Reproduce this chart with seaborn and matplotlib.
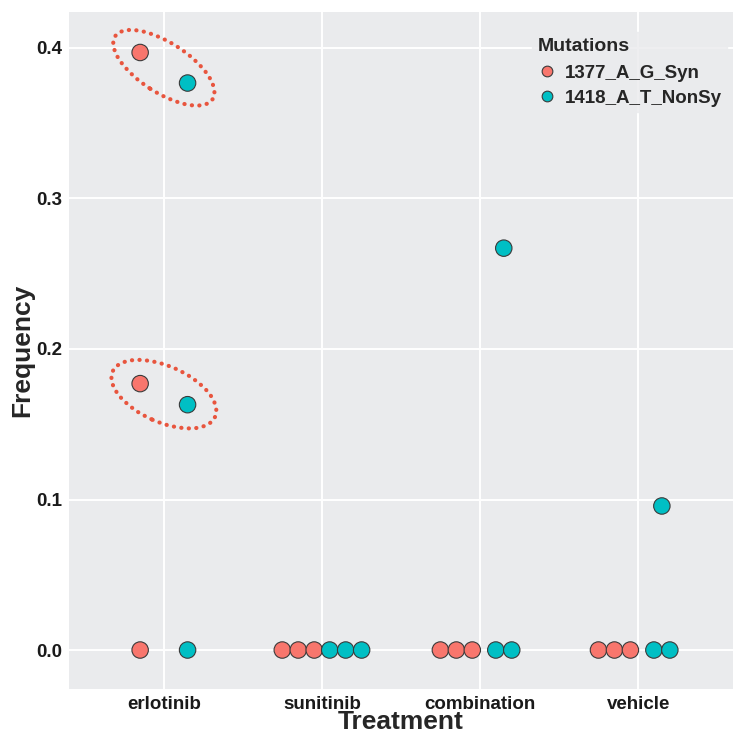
import numpy as np
import pandas as pd
import seaborn as sns
import matplotlib
matplotlib.use("Agg")
import matplotlib.pyplot as plt
from matplotlib.patches import Ellipse
from matplotlib.transforms import ScaledTranslation

# ---- data ----
treatments = ["erlotinib", "sunitinib", "combination", "vehicle"]
mutations = ["1377_A_G_Syn", "1418_A_T_NonSy"]
syn_values = [[0.397, 0.177, 0.0], [0.0, 0.0, 0.0], [0.0, 0.0, 0.0], [0.0, 0.0, 0.0]]
nonsy_values = [[0.3767, 0.163, 0.0], [0.0, 0.0, 0.0], [0.267, 0.0, 0.0], [0.0957, 0.0, 0.0]]
colors = ["#F8766D", "#00BFC4"]

rows = []
for ti, t in enumerate(treatments):
    for m, vals in zip(mutations, [syn_values[ti], nonsy_values[ti]]):
        for v in vals:
            rows.append({"Treatment": t, "Mutation": m, "Frequency": v})
df = pd.DataFrame(rows)

# dotplot-like stacking (centered) with dodge per mutation
dodge = {mutations[0]: -0.15, mutations[1]: 0.15}
step = 0.101
df["n"] = df.groupby(["Treatment", "Mutation", "Frequency"])["Frequency"].transform("size")
df["rank"] = df.groupby(["Treatment", "Mutation", "Frequency"]).cumcount()
df["xpos"] = (df["Treatment"].map({t: i for i, t in enumerate(treatments)})
              + df["Mutation"].map(dodge)
              + (df["rank"] - (df["n"] - 1) / 2) * step)

sns.set_style("white")
plt.rcParams["font.family"] = ["Liberation Sans", "DejaVu Sans"]

fig = plt.figure(figsize=(7.33, 7.36), dpi=100)
ax = fig.add_axes([69 / 733, 1 - 689 / 736, 664 / 733, 677 / 736])
panel = "#EAEBED"
ax.set_facecolor(panel)

sns.scatterplot(data=df, x="xpos", y="Frequency", hue="Mutation", hue_order=mutations,
                palette=colors, s=140, edgecolor="#3a3a3a", linewidth=0.8, ax=ax, zorder=3)

ax.set_xlim(-0.6, 3.6)
ax.set_ylim(-0.0259, 0.4239)
ax.set_xticks(range(len(treatments)))
ax.set_xticklabels(treatments)
ax.set_yticks([0.0, 0.1, 0.2, 0.3, 0.4])
ax.grid(True, which="major", color="white", linewidth=1.4, zorder=0)
ax.set_axisbelow(True)
for sp in ax.spines.values():
    sp.set_visible(False)
ax.tick_params(axis="both", which="major", length=3, width=0.8, color="#444444",
               labelsize=13.5, labelcolor="#1a1a1a", pad=2)
for lab in ax.get_xticklabels() + ax.get_yticklabels():
    lab.set_fontweight("bold")
ax.set_xlabel("Treatment", fontsize=19, fontweight="bold", labelpad=-2)
ax.set_ylabel("Frequency", fontsize=19, fontweight="bold", labelpad=1)

# dotted ellipses around erlotinib pairs
def ring(i, w, h):
    xs = df[(df.Treatment == "erlotinib")]
    a = xs[xs.Mutation == mutations[0]].sort_values("Frequency", ascending=False).iloc[i]
    b = xs[xs.Mutation == mutations[1]].sort_values("Frequency", ascending=False).iloc[i]
    cx = (a.xpos + b.xpos) / 2
    cy = (a.Frequency + b.Frequency) / 2
    p1 = ax.transData.transform((a.xpos, a.Frequency))
    p2 = ax.transData.transform((b.xpos, b.Frequency))
    ang = np.degrees(np.arctan2(p2[1] - p1[1], p2[0] - p1[0]))
    tr = fig.dpi_scale_trans + ScaledTranslation(cx, cy, ax.transData)
    e = Ellipse((0, 0), width=w, height=h, angle=ang, transform=tr,
                fill=False, edgecolor="#E8553E", linewidth=3.0,
                linestyle=(0, (0.05, 1.75)), zorder=4)
    e.set_capstyle("round")
    ax.add_patch(e)

ring(0, 1.16, 0.50)
ring(1, 1.12, 0.56)

leg = ax.legend(title="Mutations", loc="upper left", bbox_to_anchor=(0.683, 0.984),
                frameon=True, facecolor=panel, edgecolor=panel, fontsize=13.5,
                title_fontproperties={"weight": "bold", "size": 14},
                markerscale=0.65, handletextpad=0.45, borderpad=0.3, labelspacing=0.42,
                handlelength=1.0, alignment="left")
leg._legend_box.sep = 7
for t in leg.get_texts():
    t.set_fontweight("bold")

fig.savefig("out.png", dpi=100)
